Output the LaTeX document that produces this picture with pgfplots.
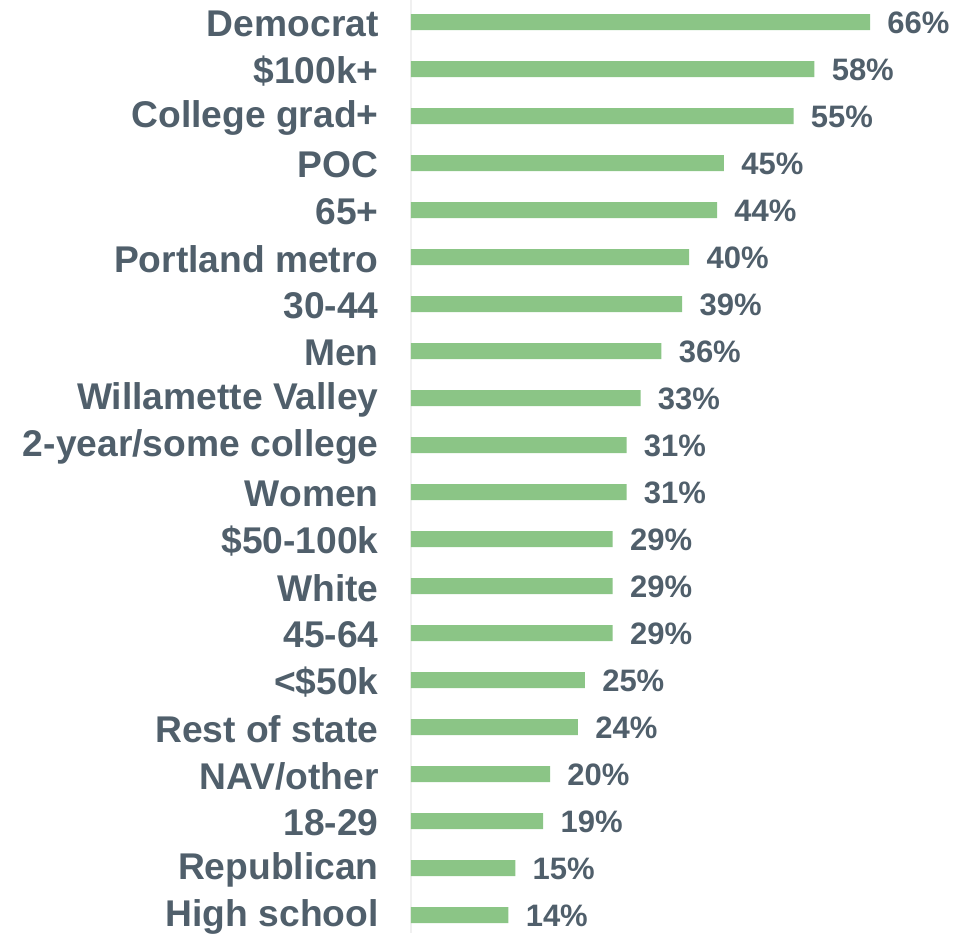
\documentclass[border=0pt]{standalone}
\usepackage{pgfplots}
\pgfplotsset{compat=1.18}
\usepackage{fontspec}
\setmainfont{Liberation Sans}
\definecolor{bargreen}{HTML}{8BC586}
\definecolor{txt}{HTML}{505F6B}
\definecolor{axline}{HTML}{F0F0F0}
\begin{document}
\begin{tikzpicture}
\begin{axis}[
  name=ax,
  scale only axis,
  width=278.5pt, height=466.5pt,
  xmin=0, xmax=80.09,
  ymin=-0.468, ymax=19.383,
  y dir=reverse,
  xbar, bar width=8pt,
  bar shift=0pt,
  axis x line=none,
  axis y line*=left,
  y axis line style={draw=axline, line width=1pt, -},
  ytick={0,...,19},
  major tick length=0pt,
  /pgf/number format/assume math mode=true,
  yticklabels={Democrat,\$100k+,College grad+,POC,65+,Portland metro,30-44,Men,Willamette Valley,2-year/some college,Women,\$50-100k,White,45-64,<\$50k,Rest of state,NAV/other,18-29,Republican,High school},
  yticklabel style={font=\bfseries\fontsize{18.6}{20}\selectfont, text=txt, anchor=east, inner sep=0pt, xshift=-16pt, yshift=-1pt},
  point meta=x,
  nodes near coords={\pgfmathprintnumber[assume math mode=true]{\pgfplotspointmeta}\%},
  nodes near coords style={font=\bfseries\fontsize{15.5}{18}\selectfont, text=txt, anchor=west, inner sep=0pt, xshift=8.5pt, yshift=-0.5pt},
  clip=false,
]
\addplot[draw=none, fill=bargreen] coordinates {
(66,0) (58,1) (55,2) (45,3) (44,4) (40,5) (39,6) (36,7) (33,8) (31,9)
(31,10) (29,11) (29,12) (29,13) (25,14) (24,15) (20,16) (19,17) (15,18) (14,19)
};
\end{axis}
\pgfresetboundingbox
\path[use as bounding box] (ax.south west) ++(-205.5pt,0) rectangle (ax.north east);
\end{tikzpicture}
\end{document}
